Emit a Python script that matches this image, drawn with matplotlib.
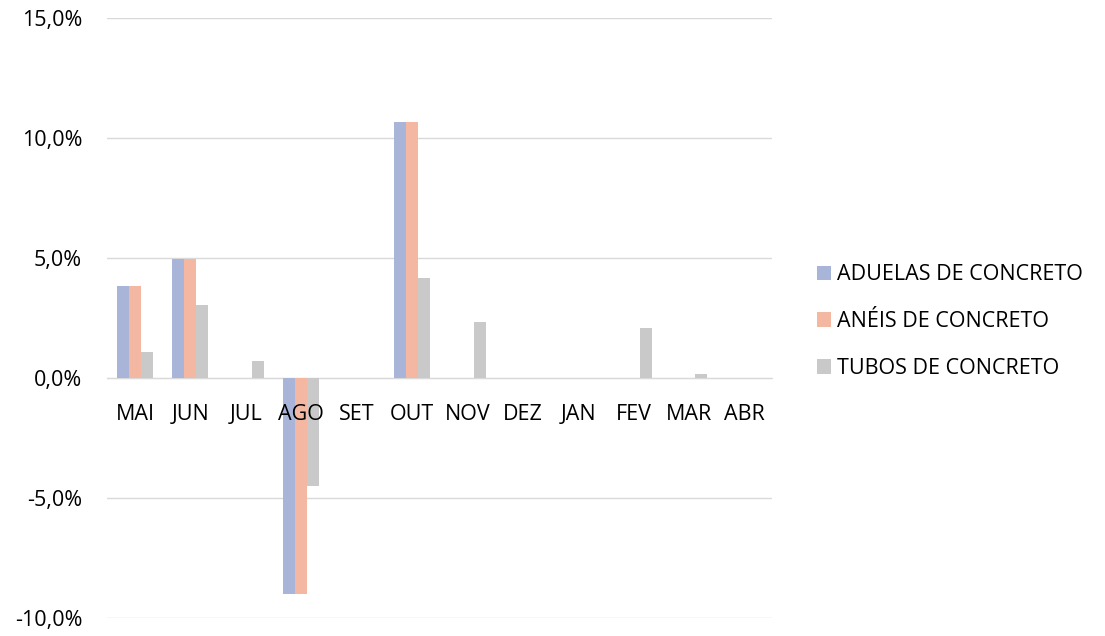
import matplotlib.pyplot as plt
import numpy as np

meses = ["MAI", "JUN", "JUL", "AGO", "SET", "OUT", "NOV", "DEZ", "JAN", "FEV", "MAR", "ABR"]
aduelas = [3.85, 4.95, 0.0, -9.0, 0.0, 10.65, 0.0, 0.0, 0.0, 0.0, 0.0, 0.0]
aneis = [3.85, 4.95, 0.0, -9.0, 0.0, 10.65, 0.0, 0.0, 0.0, 0.0, 0.0, 0.0]
tubos = [1.08, 3.05, 0.7, -4.5, 0.0, 4.17, 2.33, 0.0, 0.0, 2.1, 0.15, 0.0]
series = ["ADUELAS DE CONCRETO", "ANÉIS DE CONCRETO", "TUBOS DE CONCRETO"]
cores = ["#a9b4d9", "#f4b8a2", "#c9c9c9"]

plt.rcParams['font.family'] = ['Open Sans', 'DejaVu Sans']

fig = plt.figure(figsize=(11.05, 6.36), dpi=100)
ax = fig.add_axes([0.097, 0.028, 0.602, 0.944])

x = np.arange(len(meses))
w = 0.217
for i, (nome, vals) in enumerate(zip(series, [aduelas, aneis, tubos])):
    ax.bar(x + (i - 1) * w, vals, w, color=cores[i], label=nome, zorder=2)

ax.set_xlim(-0.5, len(meses) - 0.5)
ax.set_ylim(-10, 15)
yt = np.arange(-10, 16, 5)
ax.set_yticks(yt)
ax.set_yticklabels([f"{v:.1f}%".replace(".", ",") for v in yt])
ax.tick_params(axis='y', length=0, pad=18, labelsize=15.5)
ax.set_xticks(x)
ax.set_xticklabels(meses)
ax.tick_params(axis='x', length=0, pad=19, labelsize=15.5)
ax.grid(axis='y', color='#d9d9d9', linewidth=1)
ax.yaxis.set_zorder(0.5)
ax.xaxis.set_zorder(5)
for s in ['top', 'right', 'left']:
    ax.spines[s].set_visible(False)
ax.spines['bottom'].set_position(('data', 0))
ax.spines['bottom'].set_color('#d9d9d9')
ax.spines['bottom'].set_zorder(1)

ax.legend(loc='center left', bbox_to_anchor=(1.038, 0.494), frameon=False,
          fontsize=15.5, handlelength=0.65, handleheight=0.65, handletextpad=0.3,
          labelspacing=1.2)

plt.savefig("out.png", dpi=100)
